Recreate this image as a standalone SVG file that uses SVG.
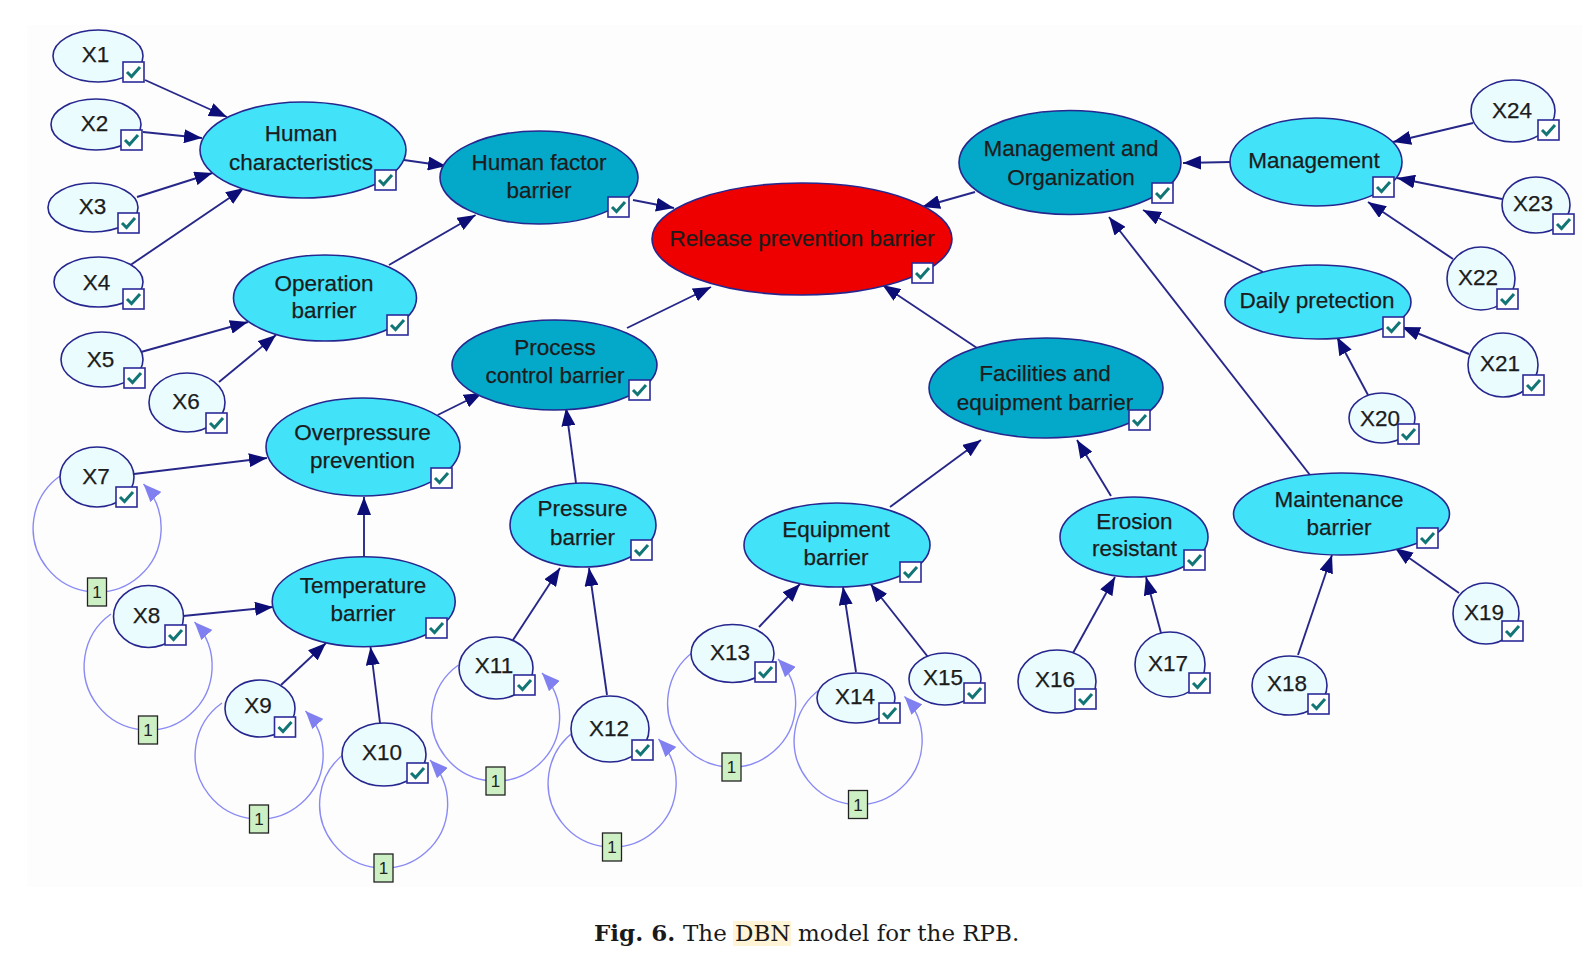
<svg xmlns="http://www.w3.org/2000/svg" xmlns:xlink="http://www.w3.org/1999/xlink" width="1593" height="970" viewBox="0 0 1593 970">
<style>
  .e { stroke:#26268f; stroke-width:1.6; }
  .xn { fill:#ebfcff; }
  .ln { fill:#42e2f8; }
  .dn { fill:#04a9c9; }
  .rn { fill:#ee0000; }
  .t { font-family:"Liberation Sans", Arial, sans-serif; font-size:22.5px; fill:#1c1c1c; text-anchor:middle; stroke:#1c1c1c; stroke-width:0.25; }
  .ed { stroke:#27278a; stroke-width:1.9; fill:none; marker-end:url(#ah); }
  .lp { stroke:#8a8af5; stroke-width:1.4; fill:none; marker-end:url(#lah); }
  .lb { fill:#cdefc4; stroke:#222; stroke-width:1.3; }
  .lt { font-family:"Liberation Sans", Arial, sans-serif; font-size:17px; fill:#222; text-anchor:middle; }
  .cap { font-family:"DejaVu Serif", "Liberation Serif", serif; font-size:23px; fill:#1a1a1a; }
</style>
<defs>
  <marker id="ah" markerUnits="userSpaceOnUse" markerWidth="18" markerHeight="14" refX="18" refY="7" orient="auto">
    <path d="M0,0 L18,7 L0,14 z" fill="#0d0d78"/>
  </marker>
  <marker id="lah" markerUnits="userSpaceOnUse" markerWidth="19" markerHeight="15" refX="18" refY="7.5" orient="auto">
    <path d="M0,0 L18,7.5 L0,15 z" fill="#8080f0"/>
  </marker>
  <g id="cb">
    <rect x="0" y="0" width="21" height="20" fill="#ffffff" stroke="#2b2b99" stroke-width="1.6"/>
    <path d="M4,10 L8.5,14.5 L17,5" fill="none" stroke="#137676" stroke-width="3"/>
  </g>
</defs>
<rect x="0" y="0" width="1593" height="970" fill="#ffffff"/>
<rect x="27" y="25" width="1555" height="862" fill="#fdfdfd"/>

<g id="connectors">
  <line class="ed" x1="145" y1="80" x2="227" y2="117"/>
  <line class="ed" x1="143" y1="132" x2="202" y2="138"/>
  <line class="ed" x1="137" y1="197" x2="212.5" y2="173"/>
  <line class="ed" x1="130.5" y1="265" x2="244" y2="188"/>
  <line class="ed" x1="404" y1="160" x2="446" y2="166"/>
  <line class="ed" x1="389" y1="265" x2="475.6" y2="215"/>
  <line class="ed" x1="141" y1="352" x2="248" y2="322"/>
  <line class="ed" x1="219" y1="382" x2="276" y2="335"/>
  <line class="ed" x1="633" y1="200" x2="674" y2="208"/>
  <line class="ed" x1="627" y1="328" x2="711" y2="287"/>
  <line class="ed" x1="975" y1="192" x2="922" y2="207"/>
  <line class="ed" x1="977" y1="348" x2="882.5" y2="285"/>
  <line class="ed" x1="1230" y1="162" x2="1183" y2="163"/>
  <line class="ed" x1="1263" y1="272" x2="1143" y2="210"/>
  <line class="ed" x1="1310" y1="475" x2="1109" y2="217"/>
  <line class="ed" x1="1473" y1="123" x2="1393" y2="142"/>
  <line class="ed" x1="1502" y1="199" x2="1397" y2="178"/>
  <line class="ed" x1="1453" y1="259" x2="1368" y2="202"/>
  <line class="ed" x1="1469" y1="354" x2="1402" y2="327"/>
  <line class="ed" x1="1368" y1="395" x2="1337" y2="337"/>
  <line class="ed" x1="437.7" y1="415" x2="482" y2="393"/>
  <line class="ed" x1="576" y1="483" x2="566" y2="408"/>
  <line class="ed" x1="134" y1="474" x2="267" y2="458"/>
  <line class="ed" x1="364" y1="557" x2="364" y2="497"/>
  <line class="ed" x1="183" y1="616" x2="273" y2="607"/>
  <line class="ed" x1="281" y1="685" x2="326" y2="643"/>
  <line class="ed" x1="380" y1="723" x2="370.5" y2="647"/>
  <line class="ed" x1="513" y1="640" x2="560" y2="568"/>
  <line class="ed" x1="607" y1="695" x2="589" y2="568"/>
  <line class="ed" x1="890" y1="507" x2="981" y2="440"/>
  <line class="ed" x1="1111" y1="496" x2="1077" y2="440"/>
  <line class="ed" x1="759" y1="627" x2="800" y2="584"/>
  <line class="ed" x1="856" y1="672" x2="843" y2="587"/>
  <line class="ed" x1="928" y1="657" x2="870.5" y2="584"/>
  <line class="ed" x1="1073" y1="653" x2="1115" y2="577"/>
  <line class="ed" x1="1161" y1="633" x2="1146" y2="577"/>
  <line class="ed" x1="1298" y1="655" x2="1332" y2="555"/>
  <line class="ed" x1="1459" y1="593" x2="1395" y2="548"/>

  <!-- self loops -->
  <path class="lp" d="M60,476 A64,64 0 1 0 143.5,484"/>
  <path class="lp" d="M111,614 A64,64 0 1 0 194.5,622"/>
  <path class="lp" d="M222,703 A64,64 0 1 0 305.5,711"/>
  <path class="lp" d="M346.5,752 A64,64 0 1 0 430,760"/>
  <path class="lp" d="M458.5,665 A64,64 0 1 0 542,673"/>
  <path class="lp" d="M575,731 A64,64 0 1 0 658.5,739"/>
  <path class="lp" d="M694.5,651 A64,64 0 1 0 778,659"/>
  <path class="lp" d="M821,688.5 A64,64 0 1 0 904.5,696.5"/>

  <rect class="lb" x="87.5" y="578" width="19" height="28"/><text class="lt" x="97" y="598">1</text>
  <rect class="lb" x="138.5" y="716" width="19" height="28"/><text class="lt" x="148" y="736">1</text>
  <rect class="lb" x="249.5" y="805" width="19" height="28"/><text class="lt" x="259" y="825">1</text>
  <rect class="lb" x="374" y="854" width="19" height="28"/><text class="lt" x="383.5" y="874">1</text>
  <rect class="lb" x="486" y="767" width="19" height="28"/><text class="lt" x="495.5" y="787">1</text>
  <rect class="lb" x="602.5" y="833" width="19" height="28"/><text class="lt" x="612" y="853">1</text>
  <rect class="lb" x="722" y="753" width="19" height="28"/><text class="lt" x="731.5" y="773">1</text>
  <rect class="lb" x="848.5" y="790.5" width="19" height="28"/><text class="lt" x="858" y="810.5">1</text>
</g>

<!-- big nodes -->
<g id="human-characteristics"><ellipse class="e ln" cx="303" cy="150" rx="103" ry="48"/><text class="t" x="301" y="141">Human</text><text class="t" x="301" y="170">characteristics</text><use xlink:href="#cb" x="375" y="170"/></g>
<g id="human-factor-barrier"><ellipse class="e dn" cx="539" cy="177.5" rx="99" ry="46.5"/><text class="t" x="539" y="169.5">Human factor</text><text class="t" x="539" y="198">barrier</text><use xlink:href="#cb" x="608" y="197"/></g>
<g id="operation-barrier"><ellipse class="e ln" cx="325" cy="298" rx="91.5" ry="43"/><text class="t" x="324" y="291">Operation</text><text class="t" x="324" y="318">barrier</text><use xlink:href="#cb" x="387" y="315"/></g>
<g id="release-prevention-barrier"><ellipse class="e rn" cx="802" cy="239" rx="150" ry="56"/><text class="t" x="802" y="246">Release prevention barrier</text><use xlink:href="#cb" x="912" y="263"/></g>
<g id="management-and-organization"><ellipse class="e dn" cx="1070" cy="162.5" rx="111" ry="52"/><text class="t" x="1071" y="156">Management and</text><text class="t" x="1071" y="185">Organization</text><use xlink:href="#cb" x="1152" y="183"/></g>
<g id="management"><ellipse class="e ln" cx="1316" cy="162" rx="86" ry="44"/><text class="t" x="1314" y="168">Management</text><use xlink:href="#cb" x="1373" y="177"/></g>
<g id="daily-pretection"><ellipse class="e ln" cx="1318" cy="302" rx="93" ry="37"/><text class="t" x="1317" y="308">Daily pretection</text><use xlink:href="#cb" x="1383" y="317"/></g>
<g id="process-control-barrier"><ellipse class="e dn" cx="554.5" cy="365" rx="102.5" ry="45"/><text class="t" x="555" y="355">Process</text><text class="t" x="555" y="383">control barrier</text><use xlink:href="#cb" x="629" y="380"/></g>
<g id="facilities-and-equipment-barrier"><ellipse class="e dn" cx="1046" cy="388" rx="117" ry="50"/><text class="t" x="1045" y="381">Facilities and</text><text class="t" x="1045" y="410">equipment barrier</text><use xlink:href="#cb" x="1129" y="410"/></g>
<g id="overpressure-prevention"><ellipse class="e ln" cx="363" cy="447" rx="97" ry="49"/><text class="t" x="362.5" y="440">Overpressure</text><text class="t" x="362.5" y="468">prevention</text><use xlink:href="#cb" x="431" y="468"/></g>
<g id="pressure-barrier"><ellipse class="e ln" cx="583" cy="525" rx="73" ry="42"/><text class="t" x="582.5" y="516">Pressure</text><text class="t" x="582.5" y="545">barrier</text><use xlink:href="#cb" x="631" y="540"/></g>
<g id="temperature-barrier"><ellipse class="e ln" cx="363.7" cy="601.7" rx="91.5" ry="45"/><text class="t" x="363" y="593">Temperature</text><text class="t" x="363" y="621">barrier</text><use xlink:href="#cb" x="426" y="618"/></g>
<g id="equipment-barrier"><ellipse class="e ln" cx="837" cy="545" rx="93" ry="42"/><text class="t" x="836" y="537">Equipment</text><text class="t" x="836" y="565">barrier</text><use xlink:href="#cb" x="900" y="562"/></g>
<g id="erosion-resistant"><ellipse class="e ln" cx="1134" cy="537" rx="74" ry="40"/><text class="t" x="1134.5" y="529">Erosion</text><text class="t" x="1134.5" y="556">resistant</text><use xlink:href="#cb" x="1184" y="550"/></g>
<g id="maintenance-barrier"><ellipse class="e ln" cx="1341.5" cy="514" rx="108" ry="41"/><text class="t" x="1339" y="507">Maintenance</text><text class="t" x="1339" y="535">barrier</text><use xlink:href="#cb" x="1417" y="528"/></g>

<!-- X nodes -->
<g id="X1"><ellipse class="e xn" cx="98" cy="56" rx="45" ry="26"/><text class="t" x="95.5" y="62">X1</text><use xlink:href="#cb" x="123" y="62"/></g>
<g id="X2"><ellipse class="e xn" cx="96" cy="124.5" rx="45" ry="25.5"/><text class="t" x="94.5" y="131">X2</text><use xlink:href="#cb" x="121" y="130"/></g>
<g id="X3"><ellipse class="e xn" cx="93" cy="207.5" rx="45" ry="24.5"/><text class="t" x="92.5" y="214">X3</text><use xlink:href="#cb" x="118" y="213"/></g>
<g id="X4"><ellipse class="e xn" cx="98.5" cy="282" rx="44.5" ry="25"/><text class="t" x="96.5" y="290">X4</text><use xlink:href="#cb" x="123" y="289"/></g>
<g id="X5"><ellipse class="e xn" cx="102" cy="359.5" rx="41" ry="27.5"/><text class="t" x="100.5" y="367">X5</text><use xlink:href="#cb" x="124" y="368"/></g>
<g id="X6"><ellipse class="e xn" cx="187" cy="402.5" rx="38" ry="29.5"/><text class="t" x="186" y="409">X6</text><use xlink:href="#cb" x="206" y="413"/></g>
<g id="X7"><ellipse class="e xn" cx="97" cy="477" rx="37" ry="30"/><text class="t" x="96" y="484">X7</text><use xlink:href="#cb" x="116" y="487"/></g>
<g id="X8"><ellipse class="e xn" cx="148.5" cy="616.5" rx="35" ry="31"/><text class="t" x="146.5" y="623">X8</text><use xlink:href="#cb" x="165" y="625"/></g>
<g id="X9"><ellipse class="e xn" cx="260" cy="708.5" rx="35" ry="28.5"/><text class="t" x="258" y="713">X9</text><use xlink:href="#cb" x="274.5" y="717"/></g>
<g id="X10"><ellipse class="e xn" cx="384" cy="754.5" rx="42" ry="31.5"/><text class="t" x="382" y="760">X10</text><use xlink:href="#cb" x="407" y="763"/></g>
<g id="X11"><ellipse class="e xn" cx="496" cy="668" rx="37" ry="31"/><text class="t" x="494" y="673">X11</text><use xlink:href="#cb" x="514" y="675"/></g>
<g id="X12"><ellipse class="e xn" cx="610" cy="729" rx="39" ry="33"/><text class="t" x="609" y="736">X12</text><use xlink:href="#cb" x="632" y="740"/></g>
<g id="X13"><ellipse class="e xn" cx="732.5" cy="653.5" rx="41.5" ry="29"/><text class="t" x="730" y="660">X13</text><use xlink:href="#cb" x="755" y="662"/></g>
<g id="X14"><ellipse class="e xn" cx="856" cy="698" rx="39" ry="25"/><text class="t" x="855" y="704">X14</text><use xlink:href="#cb" x="879" y="703"/></g>
<g id="X15"><ellipse class="e xn" cx="945" cy="679" rx="36" ry="26"/><text class="t" x="943" y="685">X15</text><use xlink:href="#cb" x="964" y="683"/></g>
<g id="X16"><ellipse class="e xn" cx="1057" cy="681.5" rx="39" ry="31.5"/><text class="t" x="1055" y="687">X16</text><use xlink:href="#cb" x="1075" y="689"/></g>
<g id="X17"><ellipse class="e xn" cx="1170" cy="664.5" rx="35" ry="32.5"/><text class="t" x="1168" y="671">X17</text><use xlink:href="#cb" x="1189" y="673"/></g>
<g id="X18"><ellipse class="e xn" cx="1289.5" cy="685.5" rx="37.5" ry="29.5"/><text class="t" x="1287" y="691">X18</text><use xlink:href="#cb" x="1308" y="694"/></g>
<g id="X19"><ellipse class="e xn" cx="1486" cy="613.5" rx="33" ry="30.5"/><text class="t" x="1484" y="620">X19</text><use xlink:href="#cb" x="1502" y="621"/></g>
<g id="X20"><ellipse class="e xn" cx="1382" cy="418" rx="33" ry="25"/><text class="t" x="1380" y="426">X20</text><use xlink:href="#cb" x="1398" y="424"/></g>
<g id="X21"><ellipse class="e xn" cx="1503" cy="365" rx="35" ry="32"/><text class="t" x="1500" y="371">X21</text><use xlink:href="#cb" x="1523" y="375"/></g>
<g id="X22"><ellipse class="e xn" cx="1481" cy="278.5" rx="34" ry="31.5"/><text class="t" x="1478" y="285">X22</text><use xlink:href="#cb" x="1497" y="289"/></g>
<g id="X23"><ellipse class="e xn" cx="1536" cy="205" rx="34" ry="28"/><text class="t" x="1533" y="211">X23</text><use xlink:href="#cb" x="1553" y="214"/></g>
<g id="X24"><ellipse class="e xn" cx="1513" cy="111" rx="42" ry="31"/><text class="t" x="1512" y="118">X24</text><use xlink:href="#cb" x="1538" y="120"/></g>

<g id="caption">
  <rect x="733" y="921" width="58" height="25" fill="#fff4d6"/>
  <text class="cap" x="594" y="941" font-weight="bold">Fig. 6.</text>
  <text class="cap" x="683" y="941">The</text>
  <text class="cap" x="735" y="941" fill="#c49a3c">DBN</text>
  <text class="cap" x="798" y="941">model for the RPB.</text>
</g>
</svg>
